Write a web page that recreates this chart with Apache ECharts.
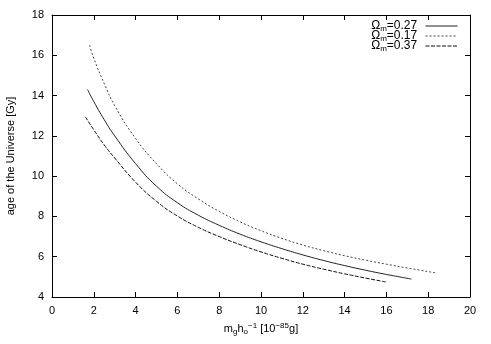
<!DOCTYPE html>
<html>
<head>
<meta charset="utf-8">
<script src="https://cdn.jsdelivr.net/npm/echarts@6/dist/echarts.min.js"></script>
<style>
html, body { margin: 0; padding: 0; background: #fff; }
#chart { width: 491px; height: 344px; }
</style>
</head>
<body>
<div id="chart"></div>
<script>
// values
const omegaLabels = ['0.27', '0.17', '0.37'];

const mass027 = [1.7, 2, 2.5, 3, 4, 5, 6, 7, 8, 9, 10, 11, 12, 13, 14, 15, 16, 17.2];
const age027  = [14.3, 13.7, 12.8, 12.0, 10.62, 9.5, 8.68, 8.06, 7.56, 7.12, 6.74, 6.4, 6.09, 5.81, 5.56, 5.33, 5.12, 4.89];

const mass017 = [1.8, 2, 2.5, 3, 4, 5, 6, 7, 8, 9, 10, 11, 12, 13, 14, 15, 16, 17, 18.4];
const age017  = [16.5, 15.85, 14.6, 13.5, 11.87, 10.62, 9.62, 8.87, 8.25, 7.73, 7.29, 6.91, 6.58, 6.3, 6.05, 5.83, 5.63, 5.44, 5.19];

const mass037 = [1.6, 2, 2.5, 3, 4, 5, 6, 7, 8, 9, 10, 11, 12, 13, 14, 15, 16];
const age037  = [12.94, 12.3, 11.55, 10.9, 9.7, 8.75, 8.02, 7.46, 7.0, 6.6, 6.24, 5.92, 5.63, 5.38, 5.15, 4.94, 4.74];

const xTicks = [0, 2, 4, 6, 8, 10, 12, 14, 16, 18, 20];
const yTicks = [4, 6, 8, 10, 12, 14, 16, 18];

function pairs(xs, ys) {
	return xs.map(function (x, i) { return [x, ys[i]]; });
}

const font = 'Liberation Sans, Arial, Helvetica, sans-serif';
const rich = {
	n: { fontSize: 11, fontFamily: font, color: '#000', lineHeight: 10 },
	k: { fontSize: 12, fontFamily: font, color: '#000', lineHeight: 10 },
	sub: { fontSize: 8, fontFamily: font, color: '#000', lineHeight: 4, padding: [6, 0, 0, 0] },
	sup: { fontSize: 8, fontFamily: font, color: '#000', lineHeight: 4, padding: [0, 0, 6, 0] }
};

function frameAxis(pos, min, max, step, showLabel) {
	return {
		type: 'value',
		position: pos,
		min: min,
		max: max,
		interval: step,
		axisLine: { show: true, onZero: false, lineStyle: { color: '#000', width: 1 } },
		axisTick: { show: true, inside: true, length: 5, lineStyle: { color: '#000' } },
		axisLabel: { show: showLabel, color: '#000', fontSize: 11, fontFamily: font, margin: 8 },
		splitLine: { show: false }
	};
}

// one legend box per row so the rows sit 10px apart like gnuplot's key
function keyRow(label, i) {
	return {
		right: 33,
		top: 19 + i * 10,
		padding: 0,
		align: 'right',
		itemWidth: 32,
		itemHeight: 10,
		data: [label],
		itemStyle: { opacity: 0 },
		lineStyle: { width: 1 },
		formatter: function (name) {
			return '{k|Ω}{sub|m}{k|=' + name + ' }';
		},
		textStyle: { rich: rich, lineHeight: 10 }
	};
}

const myChart = echarts.init(document.getElementById('chart'));

const xBottom = frameAxis('bottom', xTicks[0], xTicks[xTicks.length - 1], 2, true);
xBottom.name = '{n|m}{sub|g}{n|h}{sub|o}{sup|−1}{n| [10}{sup|−85}{n|g]}';
xBottom.nameLocation = 'middle';
xBottom.nameGap = 27;
xBottom.nameTextStyle = { rich: rich };

const yLeft = frameAxis('left', yTicks[0], yTicks[yTicks.length - 1], 2, true);
yLeft.name = 'age of the Universe [Gy]';
yLeft.nameLocation = 'middle';
yLeft.nameGap = 36;
yLeft.nameTextStyle = { color: '#000', fontSize: 11, fontFamily: font };

myChart.setOption({
	animation: false,
	backgroundColor: '#fff',
	grid: { left: 52, right: 21, top: 15, bottom: 47, outerBoundsMode: 'none' },
	legend: omegaLabels.map(keyRow),
	xAxis: [xBottom, frameAxis('top', 0, 20, 2, false)],
	yAxis: [yLeft, frameAxis('right', 4, 18, 2, false)],
	series: [
		{
			name: omegaLabels[0],
			type: 'line',
			smooth: true,
			symbol: 'none',
			color: '#222',
			data: pairs(mass027, age027),
			lineStyle: { color: '#222', width: 1, type: 'solid' }
		},
		{
			name: omegaLabels[1],
			type: 'line',
			smooth: true,
			symbol: 'none',
			color: '#444',
			data: pairs(mass017, age017),
			lineStyle: { color: '#444', width: 1, type: [2, 2] }
		},
		{
			name: omegaLabels[2],
			type: 'line',
			smooth: true,
			symbol: 'none',
			color: '#111',
			data: pairs(mass037, age037),
			lineStyle: { color: '#111', width: 1, type: [4, 1.5] }
		}
	]
});
</script>
</body>
</html>
